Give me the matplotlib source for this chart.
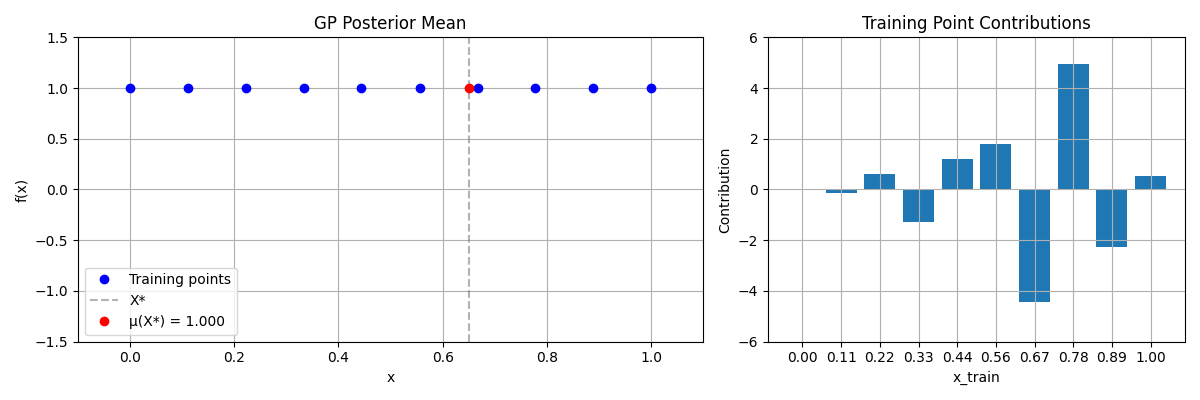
import numpy as np
import matplotlib
matplotlib.use("Agg")
import matplotlib.pyplot as plt

x_train = [0.0, 0.111, 0.222, 0.333, 0.444, 0.556, 0.667, 0.778, 0.889, 1.0]
y_train = [1.0] * 10
x_star = 0.65
mu_star = 1.0
tick_labels = ["0.00", "0.11", "0.22", "0.33", "0.44", "0.56", "0.67", "0.78", "0.89", "1.00"]
contrib = [0.0, -0.15, 0.6, -1.3, 1.2, 1.8, -4.45, 4.95, -2.25, 0.55]

fig, (ax1, ax2) = plt.subplots(1, 2, figsize=(12, 4), gridspec_kw={"width_ratios": [3, 2]})
ax1.plot(x_train, y_train, "bo", label="Training points")
ax1.axvline(x_star, color="gray", linestyle="--", alpha=0.6, label="X*")
ax1.plot([x_star], [mu_star], "ro", label=f"μ(X*) = {mu_star:.3f}")
ax1.set_xlim(-0.1, 1.1)
ax1.set_ylim(-1.5, 1.5)
ax1.set_xlabel("x")
ax1.set_ylabel("f(x)")
ax1.set_title("GP Posterior Mean")
ax1.legend(loc="lower left")
ax1.grid(True)

ax2.bar(tick_labels, contrib, color="#1f77b4")
ax2.set_ylim(-6, 6)
ax2.set_xlabel("x_train")
ax2.set_ylabel("Contribution")
ax2.set_title("Training Point Contributions")
ax2.grid(True)

fig.tight_layout()
fig.savefig("out.png", dpi=100)
